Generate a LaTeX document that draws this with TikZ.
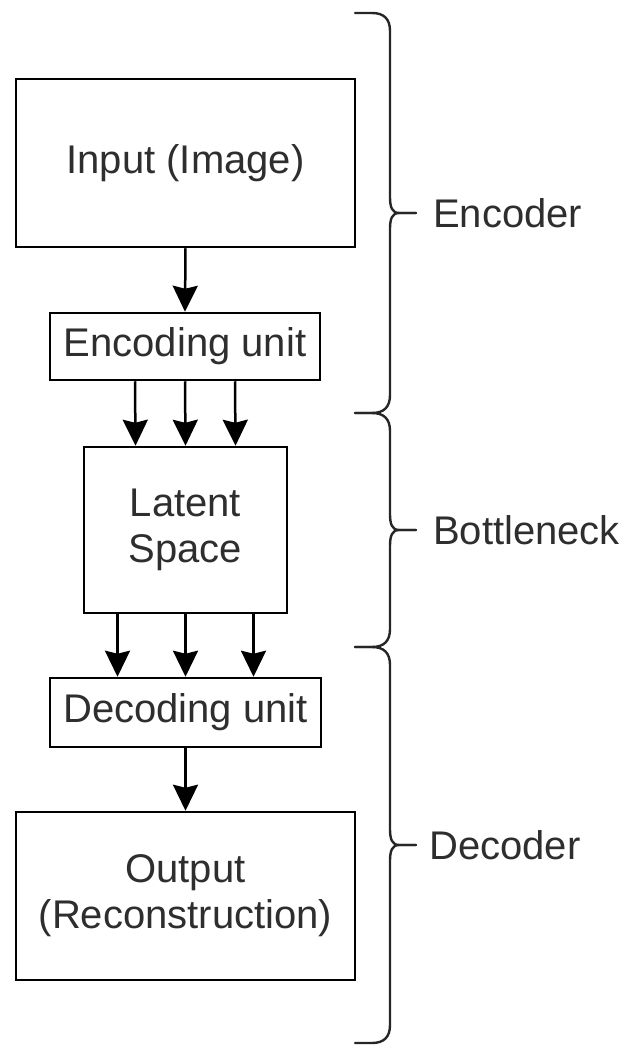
\documentclass[tikz,border=0pt]{standalone}
\usepackage{fontspec}
\setmainfont{Liberation Sans}
\usetikzlibrary{arrows.meta}
\begin{document}
\begin{tikzpicture}[x=1pt,y=-1pt,
  every node/.style={font=\fontsize{40}{46}\selectfont, text=black!82},
  blockbox/.style={draw=black, line width=2.5pt, fill=white, inner sep=0pt,
    align=center, anchor=center},
  flow/.style={draw=black, line width=2.5pt,
    -{Stealth[length=26pt, width=25pt, inset=3pt]}},
  bracket/.style={draw=black!85, line width=2.4pt, line cap=round, line join=round},
  grouplabel/.style={anchor=west, inner sep=0pt}
]
\useasboundingbox (0,0) rectangle (625,1046);

% processing blocks
\node[blockbox, minimum width=339pt, minimum height=168pt] (inp) at (185.5,163) {Input (Image)};
\node[blockbox, minimum width=270pt, minimum height=67pt] (enc) at (185,346.5) {Encoding unit};
\node[blockbox, minimum width=203pt, minimum height=166pt] (lat) at (185.5,530) {Latent\\Space};
\node[blockbox, minimum width=271pt, minimum height=69pt] (dec) at (185.5,712.5) {Decoding unit};
\node[blockbox, minimum width=339pt, minimum height=168pt] (out) at (185.5,896) {Output\\(Reconstruction)};

% data flow
\draw[flow] (inp.south) -- (enc.north);
\foreach \dx in {-50,0,50}
  \draw[flow] ([xshift=\dx pt]enc.south) -- ([xshift=\dx pt]lat.north);
\foreach \dx in {-68,0,68}
  \draw[flow] ([xshift=\dx pt]lat.south) -- ([xshift=\dx pt]dec.north);
\draw[flow] (dec.south) -- (out.north);

% curly brackets grouping the stages
\newcommand{\stagebracket}[2]{%
  \pgfmathsetmacro{\tipy}{(#1+#2)/2}%
  \draw[bracket] (355,#1) -- (372,#1)
    .. controls (384,#1) and (390,#1+6) .. (390,#1+18)
    -- (390,\tipy-16)
    .. controls (390,\tipy-6) and (392,\tipy) .. (399,\tipy) -- (416,\tipy);
  \draw[bracket] (416,\tipy) -- (399,\tipy)
    .. controls (392,\tipy) and (390,\tipy+6) .. (390,\tipy+16)
    -- (390,#2-18)
    .. controls (390,#2-6) and (384,#2) .. (372,#2) -- (355,#2);
}
\stagebracket{13}{413}
\stagebracket{413}{647}
\stagebracket{647}{1043}

% stage labels
\node[grouplabel] (lenc) at (433,213) {Encoder};
\node[grouplabel] (lbot) at (433,530) {Bottleneck};
\node[grouplabel] (ldec) at (429,845) {Decoder};
\end{tikzpicture}
\end{document}
